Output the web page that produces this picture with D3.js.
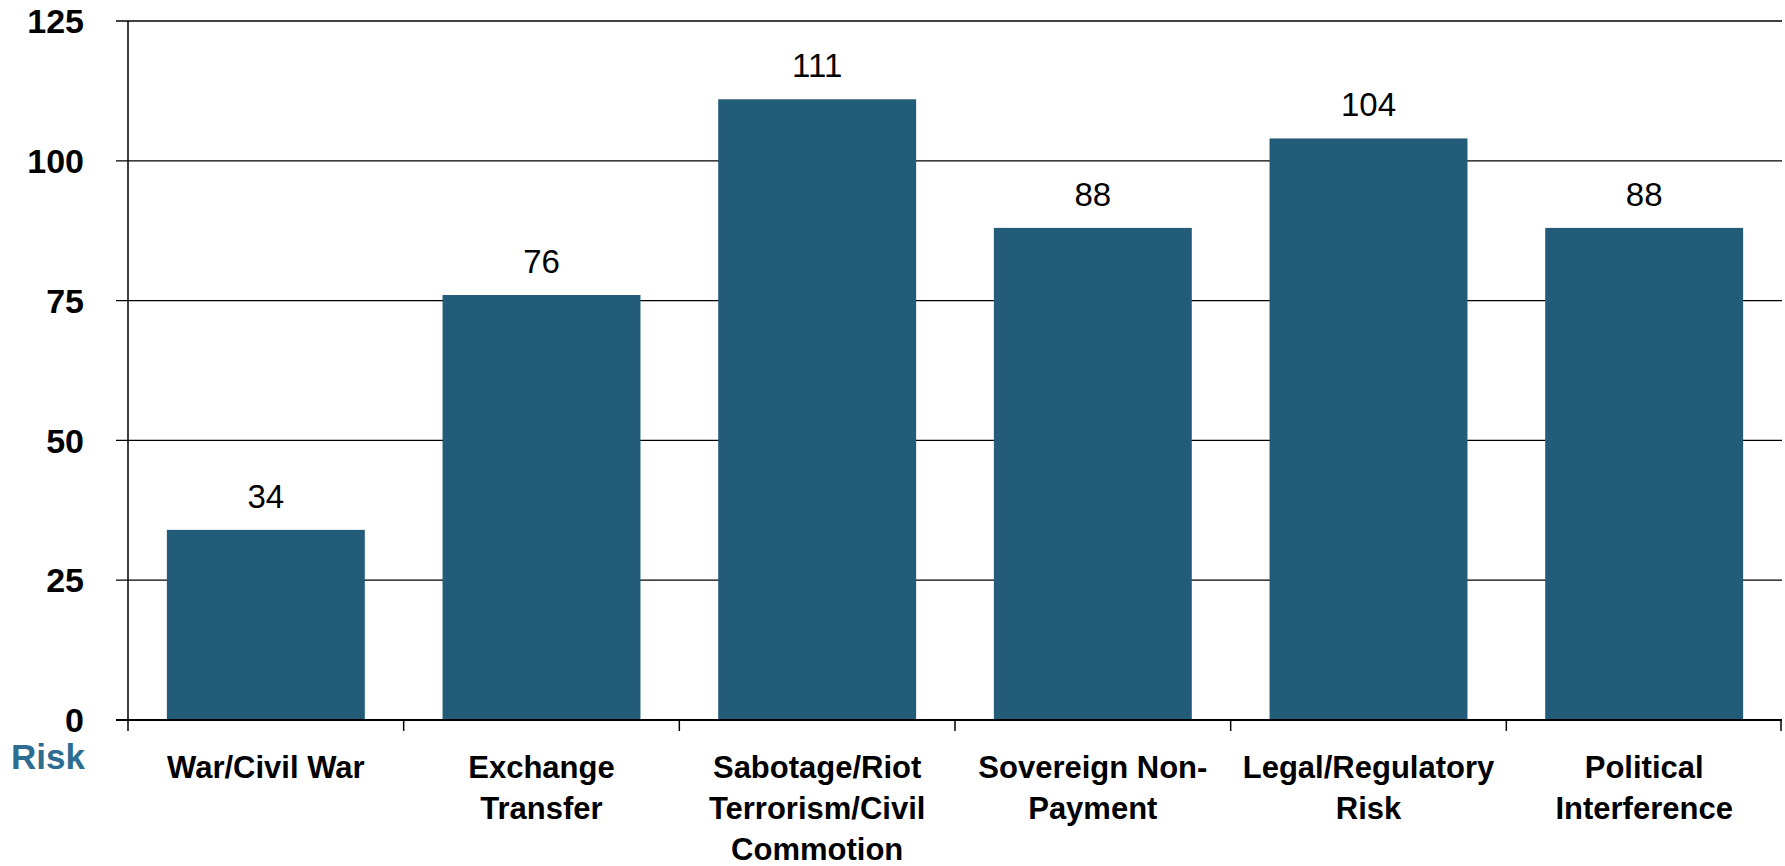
<!DOCTYPE html>
<html>
<head>
<meta charset="utf-8">
<script src="https://cdn.jsdelivr.net/npm/d3@7/dist/d3.min.js"></script>
<style>
  html, body { margin: 0; padding: 0; background: #ffffff; }
  svg { display: block; }
  text { font-family: Arial, "Liberation Sans", sans-serif; }
</style>
</head>
<body>
<svg id="chart" width="1785" height="866"></svg>
<script>
// Number of incidents by type of political risk
const categories = [
  ["War/Civil War"],
  ["Exchange", "Transfer"],
  ["Sabotage/Riot", "Terrorism/Civil", "Commotion"],
  ["Sovereign Non-", "Payment"],
  ["Legal/Regulatory", "Risk"],
  ["Political", "Interference"]
];
const values = [34, 76, 111, 88, 104, 88];
const yTicks = [0, 25, 50, 75, 100, 125];
const axisTitle = "Risk";

const W = 1785, H = 866;
const margin = { left: 128, right: 3, top: 21, bottom: 146 };
const svg = d3.select("#chart");

const keys = categories.map((c, i) => i);
const x = d3.scaleBand()
  .domain(keys)
  .range([margin.left, W - margin.right])
  .paddingInner(0.282)
  .paddingOuter(0.141);

const y = d3.scaleLinear()
  .domain([0, 125])
  .range([H - margin.bottom, margin.top]);

// horizontal gridlines with left tick stubs
svg.append("g")
  .selectAll("line")
  .data(yTicks.filter(t => t > 0))
  .join("line")
  .attr("x1", margin.left - 12)
  .attr("x2", W - margin.right)
  .attr("y1", d => y(d))
  .attr("y2", d => y(d))
  .attr("stroke", "#000")
  .attr("stroke-width", 1.3);

// y tick labels
svg.append("g")
  .selectAll("text")
  .data(yTicks)
  .join("text")
  .attr("x", 84)
  .attr("y", d => y(d))
  .attr("dy", "0.36em")
  .attr("text-anchor", "end")
  .attr("font-size", 34)
  .attr("font-weight", "bold")
  .attr("fill", "#000")
  .text(d => d);

// bars
svg.append("g")
  .selectAll("rect")
  .data(values)
  .join("rect")
  .attr("x", (d, i) => x(i))
  .attr("width", x.bandwidth())
  .attr("y", d => y(d))
  .attr("height", d => y(0) - y(d))
  .attr("fill", "#235c79");

// value labels
svg.append("g")
  .selectAll("text")
  .data(values)
  .join("text")
  .attr("x", (d, i) => x(i) + x.bandwidth() / 2)
  .attr("y", d => y(d) - 22)
  .attr("text-anchor", "middle")
  .attr("font-size", 33)
  .attr("fill", "#000")
  .text(d => d);

// y axis line
svg.append("line")
  .attr("x1", margin.left).attr("x2", margin.left)
  .attr("y1", y(125)).attr("y2", y(0) + 11)
  .attr("stroke", "#000").attr("stroke-width", 1.5);

// x axis baseline with left stub
svg.append("line")
  .attr("x1", margin.left - 12).attr("x2", W - margin.right)
  .attr("y1", y(0)).attr("y2", y(0))
  .attr("stroke", "#000").attr("stroke-width", 2);

// category boundary ticks
const step = x.step();
const boundaries = keys.map(i => x(i) - x.paddingInner() * step / 2).slice(1)
  .concat([W - margin.right - 1]);
svg.append("g")
  .selectAll("line")
  .data(boundaries)
  .join("line")
  .attr("x1", d => d).attr("x2", d => d)
  .attr("y1", y(0)).attr("y2", y(0) + 11)
  .attr("stroke", "#000").attr("stroke-width", 1.5);

// category labels
const lab = svg.append("g")
  .selectAll("text")
  .data(categories)
  .join("text")
  .attr("text-anchor", "middle")
  .attr("font-size", 31)
  .attr("font-weight", "bold")
  .attr("fill", "#000");
lab.each(function (lines, i) {
  const cx = x(i) + x.bandwidth() / 2;
  d3.select(this).selectAll("tspan")
    .data(lines)
    .join("tspan")
    .attr("x", cx)
    .attr("y", (d, j) => 778 + j * 41)
    .text(d => d);
});

// axis title under the y axis
svg.append("text")
  .attr("x", 11)
  .attr("y", 769)
  .attr("font-size", 35)
  .attr("font-weight", "bold")
  .attr("fill", "#2e6d92")
  .text(axisTitle);
</script>
</body>
</html>
